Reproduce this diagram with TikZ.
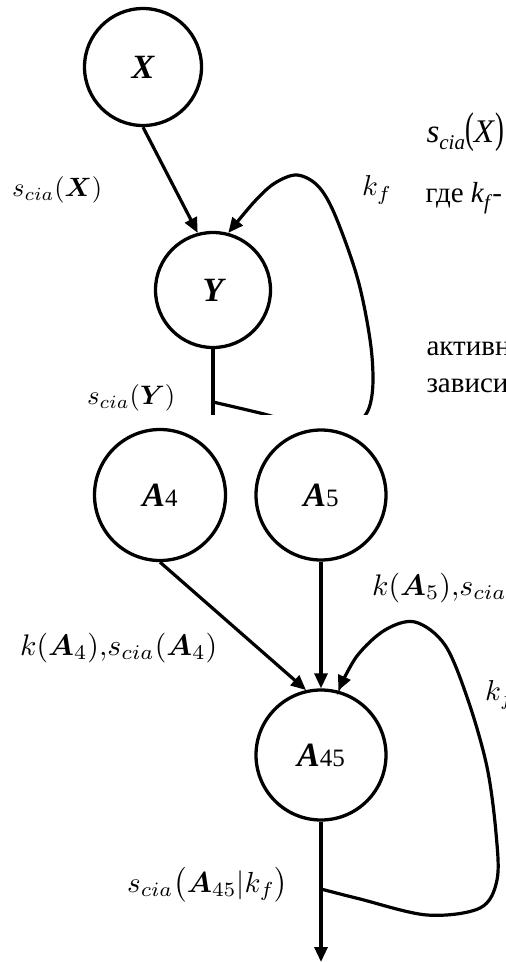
\documentclass[tikz,border=0pt]{standalone}
\usepackage{fontspec}
\setmainfont{Liberation Serif}
\usepackage{amsmath,bm}
\usetikzlibrary{arrows.meta}
\begin{document}
\begin{tikzpicture}[x=1pt,y=-1pt,
  vert/.style={circle,draw,line width=3.3pt,inner sep=0pt,font=\fontsize{34}{40}\selectfont\bfseries\itshape},
  conn/.style={line width=3.2pt,-{Triangle[length=15pt,width=13pt]}},
  plainline/.style={line width=3.2pt},
  lbl/.style={inner sep=0pt},
  txt/.style={anchor=base west,font=\fontsize{29}{34}\selectfont}]
\newcommand{\smalldig}[1]{{\normalfont\fontsize{25}{30}\selectfont #1}}
\newcommand{\wlab}[2]{\resizebox{#1pt}{!}{$#2$}}
\newcommand{\hlab}[2]{\resizebox{!}{#1pt}{$#2$}}
\clip (0,0) rectangle (506,962);
\fill[white] (0,0) rectangle (506,962);
% ---------- top fragment ----------
\begin{scope}
\clip (0,0) rectangle (506,414);
\node[vert,minimum size=117pt] (X) at (143,67) {X};
\node[vert,minimum size=115pt] (Y) at (213,290) {Y};
\coordinate (ty) at (213,402);
\coordinate (ycut) at (213,440);
\draw[conn] (X.south) -- (Y.105);
\draw[plainline] (Y.south) -- (ycut);
\draw[conn] plot[smooth,tension=0.55] coordinates {(ty) (260,413) (320,428) (360,420) (372,395) (371,347) (358,280) (335,215) (318,186) (297,175) (275,183) (255,201) (Y.75)};
\node[lbl,anchor=west] (lx) at (12,190) {\wlab{90}{s_{cia}(\boldsymbol{X})}};
\node[lbl,anchor=west] (lk1) at (362,190) {\hlab{20}{k_f}};
\node[lbl,anchor=west] (ly) at (87,398) {\wlab{88}{s_{cia}(\boldsymbol{Y})}};
\node[txt,font=\fontsize{33}{38}\selectfont] (t1) at (423,142) {\textit{s}\raisebox{-7pt}{\fontsize{21}{24}\selectfont\textit{cia}}\scalebox{0.8}[1.3]{(}\textit{X}\scalebox{0.8}[1.3]{)}};
\node[txt] (t2) at (422,202) {где \textit{k}\raisebox{-7pt}{\fontsize{21}{24}\selectfont\textit{f}}-};
\node[txt] (t3) at (423,355) {активн};
\node[txt] (t4) at (423,392) {зависи};
\end{scope}
% ---------- bottom fragment ----------
\node[vert,minimum size=131pt] (A4) at (160,495) {A\smalldig{4}};
\node[vert,minimum size=130pt] (A5) at (321,495) {A\smalldig{5}};
\node[vert,minimum size=130pt] (A45) at (321,755) {A\smalldig{45}};
\coordinate (bl) at (321,889);
\coordinate (outend) at (321,962);
\draw[conn] (A4.south) -- (A45.103);
\draw[conn] (A5.south) -- (A45.north);
\draw[conn] (A45.south) -- (outend);
\draw[conn] plot[smooth,tension=0.55] coordinates {(bl) (360,899) (427,915) (480,908) (497,880) (496,833) (487,767) (468,700) (445,645) (415,622) (385,630) (357,656) (A45.75)};
\node[lbl,anchor=west] (la4) at (20,648) {\wlab{197}{k(\boldsymbol{A}_4){,}s_{cia}(\boldsymbol{A}_4)}};
\node[lbl,anchor=west] (la5) at (372,588) {\wlab{197}{k(\boldsymbol{A}_5){,}s_{cia}(\boldsymbol{A}_5)}};
\node[lbl,anchor=west] (lk2) at (485,695) {\hlab{20}{k_f}};
\node[lbl,anchor=west] (lout) at (127,885) {\wlab{161}{s_{cia}\bigl(\boldsymbol{A}_{45}|k_f\bigr)}};
\end{tikzpicture}
\end{document}
